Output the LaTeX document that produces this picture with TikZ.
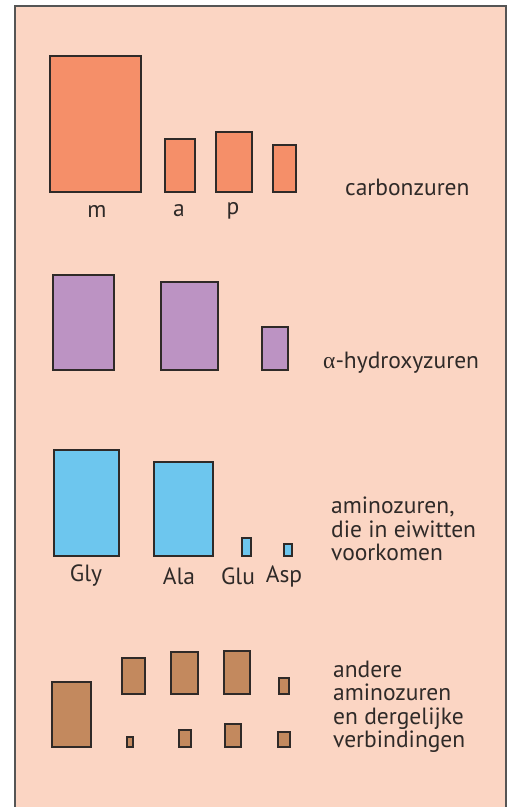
\documentclass[tikz,border=0pt]{standalone}
\usepackage{fontspec}
\setmainfont{PT Sans}
\newfontfamily\grkfont{Liberation Serif}
\definecolor{bgc}{HTML}{FBD5C3}
\definecolor{orc}{HTML}{F58F69}
\definecolor{puc}{HTML}{BC93C3}
\definecolor{blc}{HTML}{6DC6EE}
\definecolor{brc}{HTML}{C3895E}
\definecolor{edc}{HTML}{2F2A28}
\definecolor{frc}{HTML}{555555}
\begin{document}
\begin{tikzpicture}[x=1pt,y=-1pt,
  bar/.style={draw=edc,line width=1.2pt},
  lbl/.style={font=\fontsize{23.5}{24}\selectfont,text=edc,inner sep=0pt},
  grp/.style={font=\fontsize{23.5}{23.5}\selectfont,text=edc,inner sep=0pt,align=left,anchor=west}]
\useasboundingbox (0,0) rectangle (510,807);
\fill[bgc] (15,6) rectangle (506,810);
\draw[frc,line width=1.5pt] (15,810) -- (15,6) -- (506,6) -- (506,810);
% carbonzuren
\draw[bar,fill=orc] (50,56) rectangle (141,192);
\draw[bar,fill=orc] (165,139) rectangle (195,192);
\draw[bar,fill=orc] (216,132) rectangle (252,192);
\draw[bar,fill=orc] (273,145) rectangle (296,192);
\node[lbl] (m) at (97,211) {m};
\node[lbl] (a) at (179,211) {a};
\node[lbl] (p) at (233,211) {p};
\node[grp] (g1) at (345,187) {carbonzuren};
% hydroxyzuren
\draw[bar,fill=puc] (53,275) rectangle (114,370);
\draw[bar,fill=puc] (161,282) rectangle (218,370);
\draw[bar,fill=puc] (262,327) rectangle (288,370);
\node[grp] (g2) at (323,363) {{\grkfont α}-hydroxyzuren};
% aminozuren
\draw[bar,fill=blc] (54,450) rectangle (119,556);
\draw[bar,fill=blc] (154,462) rectangle (213,556);
\draw[bar,fill=blc] (242,538) rectangle (251,556);
\draw[bar,fill=blc] (284,544) rectangle (292,556);
\node[lbl] (gly) at (86,576) {Gly};
\node[lbl] (ala) at (179,576) {Ala};
\node[lbl] (glu) at (238,576) {Glu};
\node[lbl] (asp) at (284,576) {Asp};
\node[grp] (g3) at (331,529) {aminozuren,\\die in eiwitten\\voorkomen};
% andere
\draw[bar,fill=brc] (52,682) rectangle (91,747);
\draw[bar,fill=brc] (122,658) rectangle (145,694);
\draw[bar,fill=brc] (171,652) rectangle (198,694);
\draw[bar,fill=brc] (224,651) rectangle (250,694);
\draw[bar,fill=brc] (279,678) rectangle (289,694);
\draw[bar,fill=brc] (127,737) rectangle (133,747);
\draw[bar,fill=brc] (179,730) rectangle (191,747);
\draw[bar,fill=brc] (225,724) rectangle (241,747);
\draw[bar,fill=brc] (278,732) rectangle (290,747);
\node[grp] (g4) at (333,707) {andere\\aminozuren\\en dergelijke\\verbindingen};
\end{tikzpicture}
\end{document}
